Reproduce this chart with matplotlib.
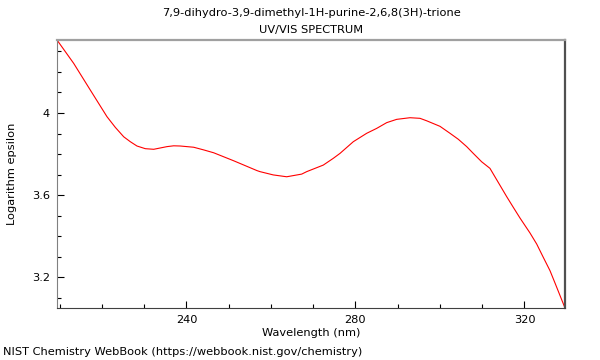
import numpy as np
import matplotlib
matplotlib.use("Agg")
import matplotlib.pyplot as plt
from matplotlib.ticker import MultipleLocator, FormatStrFormatter

# spectrum
wavelength = [209.35, 213.30, 217.23, 221.18, 223.15, 225.14, 226.70, 228.28,
              230.25, 232.24, 235.38, 236.97, 238.53, 241.70, 244.07, 246.44,
              251.17, 256.69, 257.40, 260.54, 263.72, 267.27, 268.45, 272.38,
              274.75, 276.33, 279.48, 282.65, 285.02, 287.39, 289.75, 292.90,
              295.27, 296.85, 300.00, 302.37, 304.33, 306.32, 307.88, 309.87,
              311.83, 315.79, 317.35, 318.93, 321.30, 322.89, 324.38, 326.04,
              327.22, 329.59]
log_eps = [4.356, 4.242, 4.112, 3.982, 3.930, 3.884, 3.860, 3.839,
           3.826, 3.823, 3.836, 3.840, 3.839, 3.833, 3.820, 3.806,
           3.767, 3.719, 3.714, 3.698, 3.689, 3.702, 3.714, 3.746,
           3.779, 3.803, 3.860, 3.901, 3.925, 3.953, 3.969, 3.977,
           3.974, 3.962, 3.935, 3.901, 3.872, 3.836, 3.803, 3.762,
           3.730, 3.592, 3.540, 3.488, 3.415, 3.361, 3.299, 3.231,
           3.171, 3.049]

compound = "7,9-dihydro-3,9-dimethyl-1H-purine-2,6,8(3H)-trione"
subtitle = "UV/VIS SPECTRUM"
footer = "NIST Chemistry WebBook (https://webbook.nist.gov/chemistry)"

plt.rcParams["font.family"] = "DejaVu Sans"
plt.rcParams["font.size"] = 8.2

fig = plt.figure(figsize=(6, 3.6), dpi=100)
ax = fig.add_axes([57/600, 1 - 308/360, (565 - 57)/600, (308 - 40)/360])

ax.plot(wavelength, log_eps, color="#ff0000", lw=0.8)
ax.set_xlim(min(wavelength), max(wavelength))
ax.set_ylim(min(log_eps), max(log_eps))

ax.xaxis.set_major_locator(MultipleLocator(40))
ax.xaxis.set_minor_locator(MultipleLocator(10))
ax.yaxis.set_major_locator(MultipleLocator(0.4))
ax.yaxis.set_minor_locator(MultipleLocator(0.1))
ax.yaxis.set_major_formatter(FormatStrFormatter("%g"))
ax.tick_params(which="major", direction="in", length=5, width=0.8, labelsize=8.2, pad=5)
ax.tick_params(which="minor", direction="in", length=3, width=0.8)

ax.spines["top"].set_color("#a0a0a0")
ax.spines["top"].set_linewidth(1.6)
ax.spines["right"].set_color("#505050")
ax.spines["right"].set_linewidth(1.6)
ax.spines["left"].set_color("#808080")
ax.spines["bottom"].set_color("#404040")

ax.set_xlabel("Wavelength (nm)", labelpad=2)
ax.set_ylabel("Logarithm epsilon", labelpad=11)

xc = (57 + 565) / 2 / 600
fig.text(xc, 1 - 13/360, compound, fontsize=8.2, ha="center", va="center")
fig.text(xc, 1 - 30/360, subtitle, fontsize=8.2, ha="center", va="center")
fig.text(3/600, 1 - 352/360, footer, fontsize=8.2, ha="left", va="center")

fig.savefig("out.png", dpi=100)
